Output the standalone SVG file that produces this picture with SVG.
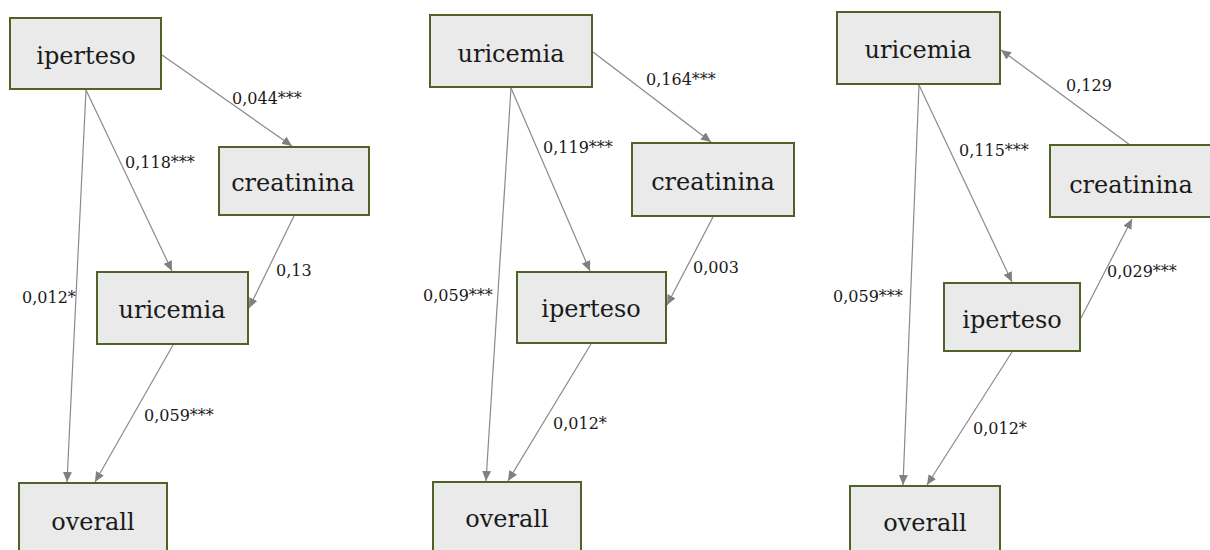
<svg xmlns="http://www.w3.org/2000/svg" width="1210" height="550" viewBox="0 0 1210 550">
<defs>
<style>
.box{fill:#eaeaea;stroke:#4f6228;stroke-width:2}
.nt{font-family:"DejaVu Serif","Liberation Serif",serif;font-size:24px;fill:#1a1a1a;text-anchor:middle}
.lb{font-family:"DejaVu Serif","Liberation Serif",serif;font-size:16px;fill:#1a1a1a}
.e{stroke:#8a8a8a;stroke-width:1.2;fill:none;marker-end:url(#ah)}
</style>
<marker id="ah" markerUnits="userSpaceOnUse" markerWidth="10" markerHeight="9" refX="10" refY="4.5" orient="auto">
<path d="M0,0 L10,4.5 L0,9 z" fill="#808080"/>
</marker>
</defs>
<rect width="1210" height="550" fill="#ffffff"/>
<g id="connectors">
<!-- panel 1 -->
<line class="e" x1="162" y1="55" x2="292" y2="146"/>
<line class="e" x1="86" y1="90" x2="172" y2="271"/>
<line class="e" x1="86" y1="90" x2="67" y2="482"/>
<line class="e" x1="294" y1="216" x2="249" y2="308"/>
<line class="e" x1="173" y1="345" x2="95" y2="482"/>
<!-- panel 2 -->
<line class="e" x1="593" y1="52" x2="711" y2="142"/>
<line class="e" x1="511" y1="88" x2="590" y2="271"/>
<line class="e" x1="511" y1="88" x2="486" y2="481"/>
<line class="e" x1="713" y1="217" x2="667" y2="305"/>
<line class="e" x1="591" y1="344" x2="508" y2="481"/>
<!-- panel 3 -->
<line class="e" x1="1130" y1="145" x2="1001" y2="50"/>
<line class="e" x1="919" y1="85" x2="1012" y2="282"/>
<line class="e" x1="919" y1="85" x2="903" y2="485"/>
<line class="e" x1="1081" y1="318" x2="1132" y2="219"/>
<line class="e" x1="1012" y1="352" x2="927" y2="485"/>
</g>
<g id="edge-labels">
<text class="lb" x="232" y="104">0,044***</text>
<text class="lb" x="125" y="168">0,118***</text>
<text class="lb" x="276" y="276">0,13</text>
<text class="lb" x="22" y="303">0,012*</text>
<text class="lb" x="144" y="421">0,059***</text>
<text class="lb" x="646" y="85">0,164***</text>
<text class="lb" x="543" y="153">0,119***</text>
<text class="lb" x="693" y="273">0,003</text>
<text class="lb" x="423" y="301">0,059***</text>
<text class="lb" x="553" y="429">0,012*</text>
<text class="lb" x="1066" y="91">0,129</text>
<text class="lb" x="959" y="156">0,115***</text>
<text class="lb" x="1107" y="277">0,029***</text>
<text class="lb" x="833" y="302">0,059***</text>
<text class="lb" x="973" y="434">0,012*</text>
</g>
<g id="p1-iperteso"><rect class="box" x="10" y="18" width="151" height="71"/><text class="nt" x="86" y="64">iperteso</text></g>
<g id="p1-creatinina"><rect class="box" x="219" y="147" width="150" height="68"/><text class="nt" x="293" y="191">creatinina</text></g>
<g id="p1-uricemia"><rect class="box" x="97" y="272" width="151" height="72"/><text class="nt" x="172" y="318">uricemia</text></g>
<g id="p1-overall"><rect class="box" x="19" y="483" width="148" height="74"/><text class="nt" x="93" y="530">overall</text></g>
<g id="p2-uricemia"><rect class="box" x="430" y="15" width="162" height="72"/><text class="nt" x="511" y="62">uricemia</text></g>
<g id="p2-creatinina"><rect class="box" x="632" y="143" width="162" height="73"/><text class="nt" x="713" y="190">creatinina</text></g>
<g id="p2-iperteso"><rect class="box" x="517" y="272" width="149" height="71"/><text class="nt" x="591" y="317">iperteso</text></g>
<g id="p2-overall"><rect class="box" x="433" y="482" width="148" height="74"/><text class="nt" x="507" y="527">overall</text></g>
<g id="p3-uricemia"><rect class="box" x="837" y="12" width="163" height="72"/><text class="nt" x="918" y="58">uricemia</text></g>
<g id="p3-creatinina"><rect class="box" x="1050" y="145" width="164" height="72"/><text class="nt" x="1131" y="193">creatinina</text></g>
<g id="p3-iperteso"><rect class="box" x="944" y="283" width="136" height="68"/><text class="nt" x="1012" y="328">iperteso</text></g>
<g id="p3-overall"><rect class="box" x="850" y="486" width="150" height="74"/><text class="nt" x="925" y="531">overall</text></g>
</svg>
